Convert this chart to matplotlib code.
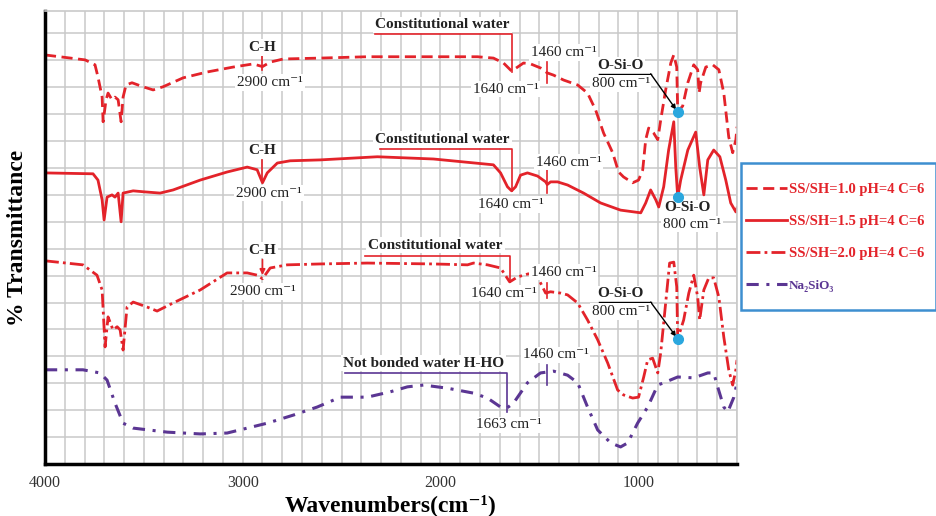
import matplotlib.pyplot as plt
from matplotlib.patches import Rectangle

plt.rcParams['font.family'] = ['Liberation Serif', 'DejaVu Serif']

RED = '#e3232a'
PURPLE = '#5b3693'
CYAN = '#2aa7de'
GRID = '#c9c9c9'

# FTIR spectra (wavenumber in cm-1, transmittance in arbitrary offset units)
wn_10 = [4000, 3797, 3747, 3732, 3711, 3706, 3691, 3681, 3661, 3646, 3630, 3615, 3605,
         3590, 3560, 3504, 3453, 3403, 3301, 3180, 3048, 2947, 2900, 2861, 2795, 2608,
         2370, 2035, 1813, 1732, 1681, 1640, 1610, 1580, 1544, 1494, 1460, 1428, 1377,
         1306, 1256, 1215, 1175, 1129, 1099, 1074, 1028, 998, 977, 962, 947, 922, 901,
         886, 861, 835, 820, 805, 800, 775, 749, 719, 699, 692, 684, 658, 623, 592, 567,
         542, 522, 506, 500]
tr_10 = [91.2, 90.1, 89.0, 86.3, 81.8, 76.3, 81.2, 82.7, 81.2, 81.8, 81.2, 76.3, 81.8,
         84.5, 85.0, 84.1, 83.4, 84.1, 86.1, 87.4, 88.5, 89.2, 88.6, 89.6, 90.3, 90.5,
         90.8, 90.8, 90.8, 90.5, 89.4, 87.6, 88.5, 89.4, 89.2, 88.3, 87.2, 86.7, 85.6,
         84.5, 82.7, 78.9, 73.8, 69.4, 65.1, 64.0, 62.7, 63.3, 65.6, 72.3, 74.9, 73.8, 72.3,
         76.7, 83.4, 89.4, 91.2, 88.5, 78.5, 79.8, 85.0, 89.0, 87.9, 82.7, 85.0, 88.5, 89.0,
         87.9, 82.7, 72.9, 69.4, 72.3, 75.2]

wn_15 = [4000, 3757, 3732, 3711, 3701, 3686, 3661, 3646, 3630, 3615, 3605, 3554, 3504,
         3418, 3352, 3215, 3079, 2977, 2927, 2900, 2876, 2825, 2760, 2608, 2319, 2035,
         1732, 1696, 1661, 1640, 1620, 1595, 1560, 1509, 1468, 1460, 1443, 1408, 1357,
         1276, 1190, 1089, 987, 962, 937, 911, 896, 871, 846, 820, 810, 800, 785, 749,
         709, 689, 668, 648, 618, 587, 557, 532, 506, 500]
tr_15 = [64.9, 64.7, 63.3, 58.9, 54.4, 59.5, 60.0, 59.5, 60.4, 54.0, 60.4, 60.9, 60.7,
         60.4, 61.1, 63.3, 65.1, 66.2, 65.6, 62.7, 64.9, 67.1, 67.6, 67.8, 68.5, 68.0,
         66.7, 64.9, 61.8, 60.9, 61.8, 64.4, 64.9, 64.2, 62.9, 62.3, 62.9, 62.9, 62.2,
         60.4, 58.2, 56.6, 56.0, 58.2, 61.1, 58.9, 57.3, 61.8, 70.0, 76.3, 66.2, 59.5,
         63.3, 70.0, 74.0, 66.2, 60.0, 67.8, 70.0, 68.5, 63.3, 58.2, 56.2, 57.1]

wn_20 = [4000, 3808, 3737, 3711, 3696, 3681, 3656, 3635, 3620, 3605, 3585, 3554, 3484,
         3433, 3352, 3215, 3079, 2977, 2927, 2900, 2861, 2775, 2608, 2370, 2035, 1863,
         1833, 1762, 1696, 1650, 1610, 1555, 1509, 1468, 1443, 1392, 1357, 1306, 1256,
         1205, 1154, 1104, 1074, 1028, 998, 972, 952, 927, 901, 886, 861, 841, 820, 805,
         800, 770, 744, 719, 699, 689, 668, 643, 618, 592, 567, 542, 522, 506, 500]
tr_20 = [45.3, 44.4, 42.1, 38.8, 26.1, 32.8, 29.9, 30.6, 29.9, 25.4, 35.0, 36.1, 35.0,
         34.1, 35.9, 38.8, 42.6, 42.6, 42.1, 41.3, 43.7, 44.4, 44.6, 44.8, 44.6, 44.4,
         44.8, 44.4, 43.7, 40.6, 41.7, 42.4, 41.7, 38.1, 38.4, 38.1, 37.7, 35.9, 32.1,
         27.7, 22.5, 16.5, 15.4, 14.7, 14.9, 19.4, 23.2, 23.6, 20.3, 24.8, 35.9, 44.8,
         45.0, 39.5, 27.9, 32.1, 38.1, 42.1, 37.2, 32.1, 38.8, 41.5, 41.5, 37.2, 28.3,
         21.0, 17.6, 21.0, 23.2]

wn_na = [4000, 3808, 3722, 3686, 3646, 3605, 3554, 3382, 3215, 3079, 2977, 2876, 2744,
         2623, 2506, 2370, 2253, 2167, 2086, 1965, 1833, 1762, 1696, 1663, 1630, 1560,
         1494, 1428, 1357, 1306, 1256, 1205, 1139, 1089, 1053, 1003, 952, 901, 871, 800,
         719, 648, 618, 598, 567, 547, 516, 500]
tr_na = [21.0, 21.0, 20.3, 18.7, 13.6, 9.1, 8.0, 7.1, 6.7, 6.9, 8.0, 9.1, 10.9,
         12.7, 14.9, 14.9, 16.1, 17.2, 17.6, 16.9, 15.8, 14.7, 12.7, 12.5, 13.6, 18.1,
         20.3, 20.7, 19.8, 18.1, 12.7, 7.6, 4.7, 3.8, 4.7, 9.1, 12.7, 17.6, 18.1, 19.4,
         19.2, 20.3, 20.3, 17.2, 12.7, 11.6, 14.9, 18.1]

labels = ['SS/SH=1.0 pH=4 C=6', 'SS/SH=1.5 pH=4 C=6', 'SS/SH=2.0 pH=4 C=6', 'Na\u2082SiO\u2083']


def tr_at(wn, tr, x):
    return tr[wn.index(x)]


def note(ax, x, y, s, bold=False, size=11, color='#222222'):
    ax.text(x, y, s, ha='center', va='center', fontsize=size, color=color,
            fontweight='bold' if bold else 'normal', zorder=4,
            bbox=dict(boxstyle='square,pad=0.12', fc='white', ec='none'))


def bracket(ax, x0, x1, y_top, y_bot, color):
    ax.plot([x0, x1, x1], [y_top, y_top, y_bot], color=color, lw=1.2, zorder=3)


fig = plt.figure(figsize=(9.37, 5.16), dpi=100)
ax = fig.add_axes([0.048, 0.1008, 0.7386, 0.8779])

ax.plot(wn_10, tr_10, color=RED, lw=2, dashes=(4, 2), label=labels[0], zorder=2)
ax.plot(wn_15, tr_15, color=RED, lw=2, label=labels[1], zorder=2)
ax.plot(wn_20, tr_20, color=RED, lw=2, dashes=(5, 1.5, 1, 1.5), label=labels[2], zorder=2)
ax.plot(wn_na, tr_na, color=PURPLE, lw=2.2, dashes=(4, 2.5, 1, 2.5), label=labels[3], zorder=2)

ax.set_xlim(4000, 500)
ax.set_ylim(0, 101)
ax.set_xticks([4000, 3000, 2000, 1000])
ax.set_xticks(range(500, 4001, 100), minor=True)
ax.set_yticks(range(0, 101, 6))
ax.set_yticklabels([])
ax.grid(True, which='both', color=GRID, lw=1.1, zorder=0)
ax.tick_params(which='both', length=0, labelsize=11.5, labelcolor='#333333', pad=8)
ax.set_axisbelow(True)
for side in ['left', 'bottom']:
    ax.spines[side].set_linewidth(2.5)
    ax.spines[side].set_color('black')
for side in ['top', 'right']:
    ax.spines[side].set_color(GRID)
    ax.spines[side].set_linewidth(1.2)

ax.set_xlabel('Wavenumbers(cm\u207b\u00b9)', fontsize=17, fontweight='bold', labelpad=2)
ax.set_ylabel('% Transmittance', fontsize=17, fontweight='bold', labelpad=4)

# C-H band at 2900
note(ax, 2900, 92.8, 'C-H', bold=True)
ax.plot([2900, 2900], [91.2, 87.9], color=RED, lw=1.2, zorder=3)
note(ax, 2861, 85.0, '2900 cm\u207b\u00b9')
note(ax, 2900, 69.8, 'C-H', bold=True)
ax.plot([2900, 2900], [67.8, 62.9], color=RED, lw=1.2, zorder=3)
note(ax, 2866, 60.4, '2900 cm\u207b\u00b9')
note(ax, 2900, 47.7, 'C-H', bold=True)
ax.annotate('', xy=(2900, 41.5), xytext=(2900, 46.2),
            arrowprops=dict(arrowstyle='-|>', color=RED, lw=1.2, mutation_scale=8), zorder=3)
note(ax, 2900, 38.4, '2900 cm\u207b\u00b9')

# constitutional water around 1640
note(ax, 1990, 97.9, 'Constitutional water', bold=True)
bracket(ax, 2329, 1640, 95.9, 87.4, RED)
note(ax, 1671, 83.6, '1640 cm\u207b\u00b9')
note(ax, 1990, 72.3, 'Constitutional water', bold=True)
bracket(ax, 2304, 1640, 70.2, 60.9, RED)
note(ax, 1646, 57.8, '1640 cm\u207b\u00b9')
note(ax, 2025, 48.8, 'Constitutional water', bold=True)
bracket(ax, 2380, 1650, 46.4, 40.6, RED)
note(ax, 1681, 38.1, '1640 cm\u207b\u00b9')
note(ax, 2086, 22.5, 'Not bonded water H-HO', bold=True)
bracket(ax, 2481, 1663, 20.3, 11.6, PURPLE)
note(ax, 1656, 8.7, '1663 cm\u207b\u00b9')

# 1460 markers
for y0, y1, ty, tx, c in [(89.6, 85.0, 91.7, 1377, RED), (65.6, 60.4, 67.3, 1352, RED),
                          (40.4, 37.0, 42.8, 1377, RED), (22.1, 17.6, 24.3, 1418, PURPLE)]:
    ax.plot([1460, 1460], [y0, y1], color=c, lw=1.2, zorder=3)
    note(ax, tx, ty, '1460 cm\u207b\u00b9')

# O-Si-O at 800
for wn, tr, ty in [(wn_10, tr_10, 87.0), (wn_20, tr_20, 36.1)]:
    yd = tr_at(wn, tr, 800)
    ax.text(1089, ty + 0.4, 'O-Si-O', ha='center', va='bottom', fontsize=11,
            fontweight='bold', color='#222222', zorder=4,
            bbox=dict(boxstyle='square,pad=0.1', fc='white', ec='none'))
    ax.plot([1200, 937], [ty, ty], color='black', lw=1, zorder=4)
    ax.annotate('', xy=(800, yd), xytext=(937, ty),
                arrowprops=dict(arrowstyle='-|>', color='black', lw=1, mutation_scale=7,
                                shrinkA=0, shrinkB=2), zorder=4)
    note(ax, 1089, ty - 2.1, '800 cm\u207b\u00b9')
    ax.plot([800], [yd], 'o', color=CYAN, ms=7, zorder=5)

yd = tr_at(wn_15, tr_15, 800)
ax.plot([800], [yd], 'o', color=CYAN, ms=7, zorder=5)
note(ax, 750, 57.1, 'O-Si-O', bold=True)
note(ax, 729, 53.5, '800 cm\u207b\u00b9')

# legend box drawn separately so the frame can sit flush with the figure edge
fig.patches.append(Rectangle((0.7903, 0.3992), 0.2087, 0.2849, transform=fig.transFigure,
                             fill=False, ec='#3d8fd0', lw=1.8))
leg = fig.legend(loc='upper left', bbox_to_anchor=(0.793, 0.652), frameon=False,
                 fontsize=10.5, handlelength=2.8, handletextpad=0.15, labelspacing=1.3,
                 borderpad=0.2, borderaxespad=0)
for txt, c in zip(leg.get_texts(), [RED, RED, RED, PURPLE]):
    txt.set_color(c)
    txt.set_fontweight('bold')
leg.get_texts()[3].set_fontsize(9.5)

fig.savefig('out.png', dpi=100)
